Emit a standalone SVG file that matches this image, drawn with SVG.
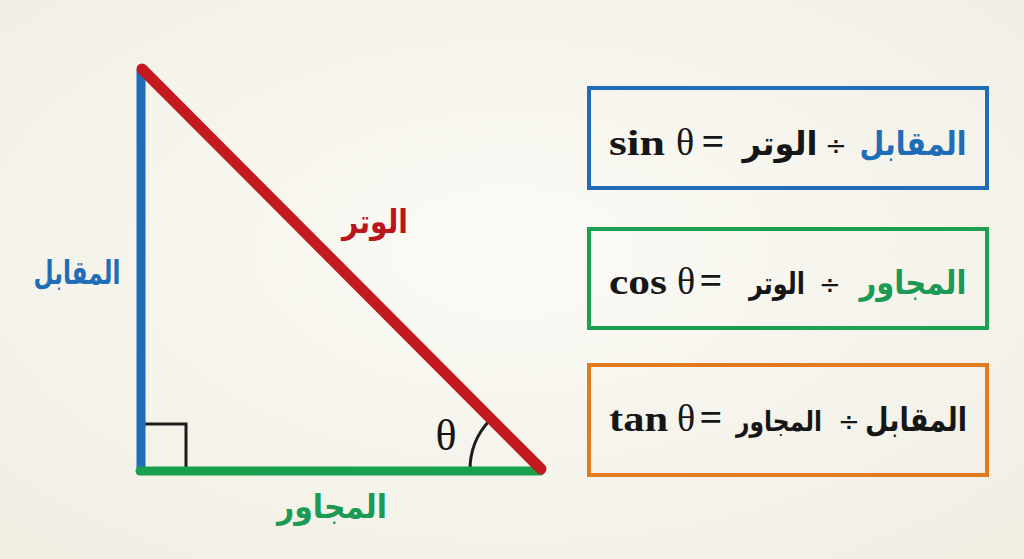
<svg xmlns="http://www.w3.org/2000/svg" width="1024" height="559" viewBox="0 0 1024 559">
<defs>
<radialGradient id="bg" cx="50%" cy="45%" r="70%">
<stop offset="0" stop-color="#fbfaf5"/>
<stop offset="1" stop-color="#f1efe4"/>
</radialGradient>
<style>
.lat{font-family:"Liberation Serif","DejaVu Serif",serif;font-weight:bold;font-size:36px;fill:#161616}
.th{font-family:"Liberation Serif","DejaVu Serif",serif;font-size:38px;fill:#161616}
.eq{font-family:"Liberation Serif","DejaVu Serif",serif;font-weight:bold;font-size:40px;fill:#161616}
.dv{font-family:"DejaVu Sans","Liberation Sans",sans-serif;font-size:26px;fill:#161616}
.ar{font-family:"DejaVu Sans","Noto Sans",sans-serif;font-weight:bold;font-size:33px;fill:#161616}
.sm{font-size:30px}
.xs{font-size:28px}
.lbl{font-family:"DejaVu Sans","Noto Sans",sans-serif;font-weight:bold;font-size:33px}
.blue{fill:#1f6db6}
.green{fill:#1a9a55}
.red{fill:#b8161c}
.box{fill:none;stroke-width:4}
</style>
</defs>
<rect width="1024" height="559" fill="url(#bg)"/>

<g id="triangle">
<path d="M143 424 H186 V470" fill="none" stroke="#1c1c1c" stroke-width="3"/>
<path d="M470 470 A72 72 0 0 1 490 420" fill="none" stroke="#1c1c1c" stroke-width="3"/>
<line x1="141" y1="70" x2="141" y2="470" stroke="#1f6db6" stroke-width="9"/>
<line x1="140" y1="471" x2="540" y2="471" stroke="#19a04e" stroke-width="9" stroke-linecap="round"/>
<line x1="142" y1="69" x2="541" y2="469" stroke="#c21a1f" stroke-width="11" stroke-linecap="round"/>
<text x="446" y="450" text-anchor="middle" font-family="Liberation Serif,DejaVu Serif,serif" font-size="44" fill="#161616">θ</text>
</g>

<g id="label-opposite">
<text class="lbl blue" x="77" y="284" text-anchor="middle" direction="rtl" textLength="87" lengthAdjust="spacingAndGlyphs">المقابل</text>
</g>
<g id="label-hypotenuse">
<text class="lbl red" x="375" y="233" text-anchor="middle" direction="rtl" textLength="66" lengthAdjust="spacingAndGlyphs">الوتر</text>
</g>
<g id="label-adjacent">
<text class="lbl green" x="332" y="518" text-anchor="middle" direction="rtl" textLength="110" lengthAdjust="spacingAndGlyphs">المجاور</text>
</g>

<g id="box-sin">
<rect class="box" x="589" y="88" width="398" height="100" stroke="#1f6db6"/>
<text class="lat" x="609" y="155" textLength="56" lengthAdjust="spacingAndGlyphs">sin</text>
<text class="th" x="685" y="155" text-anchor="middle">θ</text>
<text class="eq" x="713" y="155" text-anchor="middle">=</text>
<text class="ar" x="780" y="155" text-anchor="middle" direction="rtl" textLength="75" lengthAdjust="spacingAndGlyphs">الوتر</text>
<text class="dv" x="836" y="155" text-anchor="middle">÷</text>
<text class="ar blue" x="913" y="155" text-anchor="middle" direction="rtl" textLength="107" lengthAdjust="spacingAndGlyphs">المقابل</text>
</g>

<g id="box-cos">
<rect class="box" x="589" y="229" width="398" height="99" stroke="#1aa04f"/>
<text class="lat" x="609" y="294" textLength="58" lengthAdjust="spacingAndGlyphs">cos</text>
<text class="th" x="686" y="294" text-anchor="middle">θ</text>
<text class="eq" x="711" y="294" text-anchor="middle">=</text>
<text class="ar sm" x="777" y="294" text-anchor="middle" direction="rtl" textLength="56" lengthAdjust="spacingAndGlyphs">الوتر</text>
<text class="dv" x="830" y="294" text-anchor="middle">÷</text>
<text class="ar green" x="913" y="294" text-anchor="middle" direction="rtl" textLength="107" lengthAdjust="spacingAndGlyphs">المجاور</text>
</g>

<g id="box-tan">
<rect class="box" x="589" y="365" width="398" height="110" stroke="#e07c1f"/>
<text class="lat" x="609" y="431" textLength="59" lengthAdjust="spacingAndGlyphs">tan</text>
<text class="th" x="686" y="431" text-anchor="middle">θ</text>
<text class="eq" x="711" y="431" text-anchor="middle">=</text>
<text class="ar xs" x="779" y="431" text-anchor="middle" direction="rtl" textLength="86" lengthAdjust="spacingAndGlyphs">المجاور</text>
<text class="dv" x="849" y="431" text-anchor="middle">÷</text>
<text class="ar" x="916" y="431" text-anchor="middle" direction="rtl" textLength="102" lengthAdjust="spacingAndGlyphs">المقابل</text>
</g>

<g id="connectors"></g>
</svg>
